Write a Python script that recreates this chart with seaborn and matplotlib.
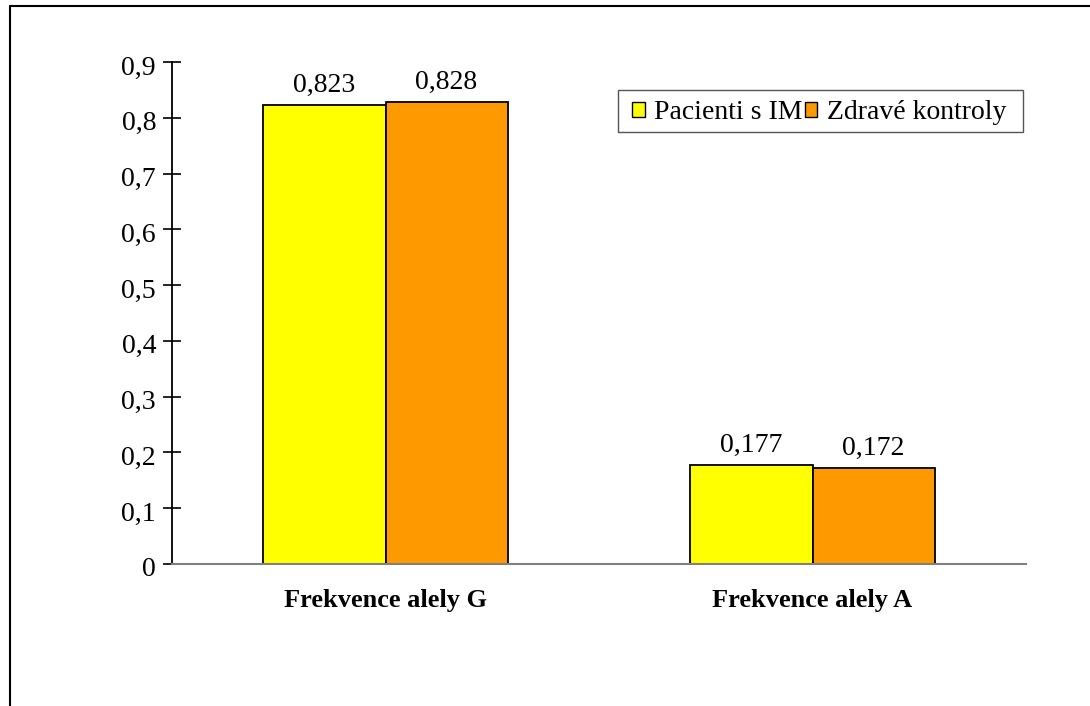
import matplotlib
matplotlib.use("Agg")
import matplotlib.pyplot as plt
import matplotlib.ticker as mticker
import matplotlib.transforms as mtransforms
from matplotlib.lines import Line2D
from matplotlib.patches import Rectangle
import seaborn as sns
import pandas as pd

categories = ["Frekvence alely G", "Frekvence alely A"]
groups = ["Pacienti s IM", "Zdravé kontroly"]
pacienti = [0.823, 0.177]
kontroly = [0.828, 0.172]
colors = ["#FFFF00", "#FF9900"]

df = pd.DataFrame({
    "kategorie": categories * 2,
    "skupina": [groups[0]] * 2 + [groups[1]] * 2,
    "hodnota": pacienti + kontroly,
})

sns.set_theme(style="white")
plt.rcParams["font.family"] = ["Liberation Serif", "DejaVu Serif"]
plt.rcParams["text.color"] = "black"
plt.rcParams["xtick.color"] = "black"
plt.rcParams["ytick.color"] = "black"

W, H = 1090, 706
fig = plt.figure(figsize=(W / 100, H / 100), dpi=100)
ax = fig.add_axes([172 / W, 1 - 564 / H, (1026 - 172) / W, (564 - 62) / H])

sns.barplot(data=df, x="kategorie", y="hodnota", hue="skupina",
            order=categories, hue_order=groups, palette=colors,
            width=0.572, edgecolor="black", linewidth=1.3, saturation=1,
            ax=ax, legend=True)

ax.set_xlim(-0.5, 1.5)
ax.set_ylim(0, 0.9)
ax.yaxis.set_major_locator(mticker.MultipleLocator(0.1))
ax.yaxis.set_major_formatter(mticker.FuncFormatter(
    lambda v, p: "0" if abs(v) < 1e-9 else f"{v:.1f}".replace(".", ",")))
ax.set_xlabel("")
ax.set_ylabel("")

for s in ["top", "right"]:
    ax.spines[s].set_visible(False)
ax.spines["left"].set_color("black")
ax.spines["left"].set_linewidth(1.3)
ax.spines["bottom"].set_color("#808080")
ax.spines["bottom"].set_linewidth(1.5)

ax.tick_params(axis="y", which="major", direction="inout", length=13, width=1.2,
               color="black", left=True, labelsize=20, pad=5, labelcolor="black")
ax.tick_params(axis="x", which="major", bottom=False, labelsize=19, pad=12,
               labelcolor="black")
for lbl in ax.get_xticklabels():
    lbl.set_fontweight("bold")

# y tick labels sit slightly below their ticks
shift = mtransforms.ScaledTranslation(0, -3 / 100, fig.dpi_scale_trans)
for lbl in ax.get_yticklabels():
    lbl.set_transform(lbl.get_transform() + shift)

for container in ax.containers:
    ax.bar_label(container, labels=[f"{v:.3f}".replace(".", ",") for v in container.datavalues],
                 padding=5, fontsize=20, color="black")

handles, labels = ax.get_legend_handles_labels()
ax.legend_.remove()
leg = fig.legend(handles, labels, loc="upper left",
                 bbox_to_anchor=(632 / W, 1 - 100 / H), ncol=2,
                 fontsize=20, frameon=False, labelcolor="black",
                 handlelength=0.45, handleheight=0.45, handletextpad=0.35,
                 columnspacing=0.07, borderpad=0.0, borderaxespad=0)
for h in leg.legend_handles:
    h.set_edgecolor("black")
    h.set_linewidth(1.0)

# legend frame
fig.add_artist(Rectangle((618 / W, 1 - 132 / H), (1023 - 618) / W, 42 / H,
                         transform=fig.transFigure, fill=False,
                         edgecolor="#555555", linewidth=1.0, zorder=5))

# outer frame around the chart area
fig.add_artist(Line2D([10 / W, 1.0], [1 - 6 / H, 1 - 6 / H],
                      transform=fig.transFigure, color="black", linewidth=1.5))
fig.add_artist(Line2D([10 / W, 10 / W], [1 - 6 / H, 0.0],
                      transform=fig.transFigure, color="black", linewidth=1.5))

fig.savefig("out.png", dpi=100, facecolor="white")
